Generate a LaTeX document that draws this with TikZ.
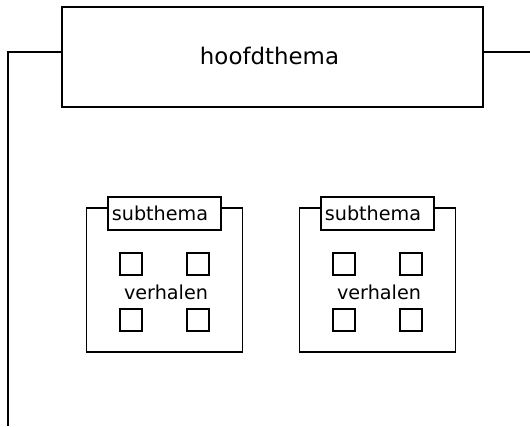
\documentclass[tikz,border=0pt]{standalone}
\usepackage{fontspec}
\setmainfont{DejaVu Sans}
\usepackage{tikz}

\begin{document}
\begin{tikzpicture}[x=0.5pt,y=-0.5pt,line width=0.6pt,
  box/.style={rectangle,draw,inner sep=0pt},
  verhaal/.style={box,minimum size=11pt},
  klein/.style={font=\fontsize{9.6}{11}\selectfont}]
\useasboundingbox (0,0) rectangle (530,427);
%\draw[help lines] (0,0) grid[step=50] (530,427);
\path (272.5,57) node(hoofd) [box,minimum width=210.5pt,minimum height=50pt,font=\fontsize{11.45}{14}\selectfont] {\hspace*{-3pt}\raisebox{1.5pt}{hoofdthema}}
(8,426) coordinate(links)
(530,52) coordinate(rechts);
\draw ([yshift=2.5pt]hoofd.west) -| (links);
\draw ([yshift=2.5pt]hoofd.east) -- (rechts);
% twee subthema's met elk vier verhalen
\foreach \i/\x in {1/164.5, 2/377.5} {
  \path (\x,280) node(sub\i) [box,minimum width=78pt,minimum height=72pt] {}
  (\x,213.5) node(tag\i) [box,fill=white,klein,minimum width=56.5pt,minimum height=16.5pt] {\hspace*{-4.5pt}\raisebox{-1.5pt}{subthema}}
  (\x+1.5,292) node(verhalen\i) [klein] {verhalen}
  (\x-33.5,264) node(v\i a) [verhaal] {}
  (\x+33.5,264) node(v\i b) [verhaal] {}
  (\x-33.5,320) node(v\i c) [verhaal] {}
  (\x+33.5,320) node(v\i d) [verhaal] {};
}
\end{tikzpicture}
\end{document}
